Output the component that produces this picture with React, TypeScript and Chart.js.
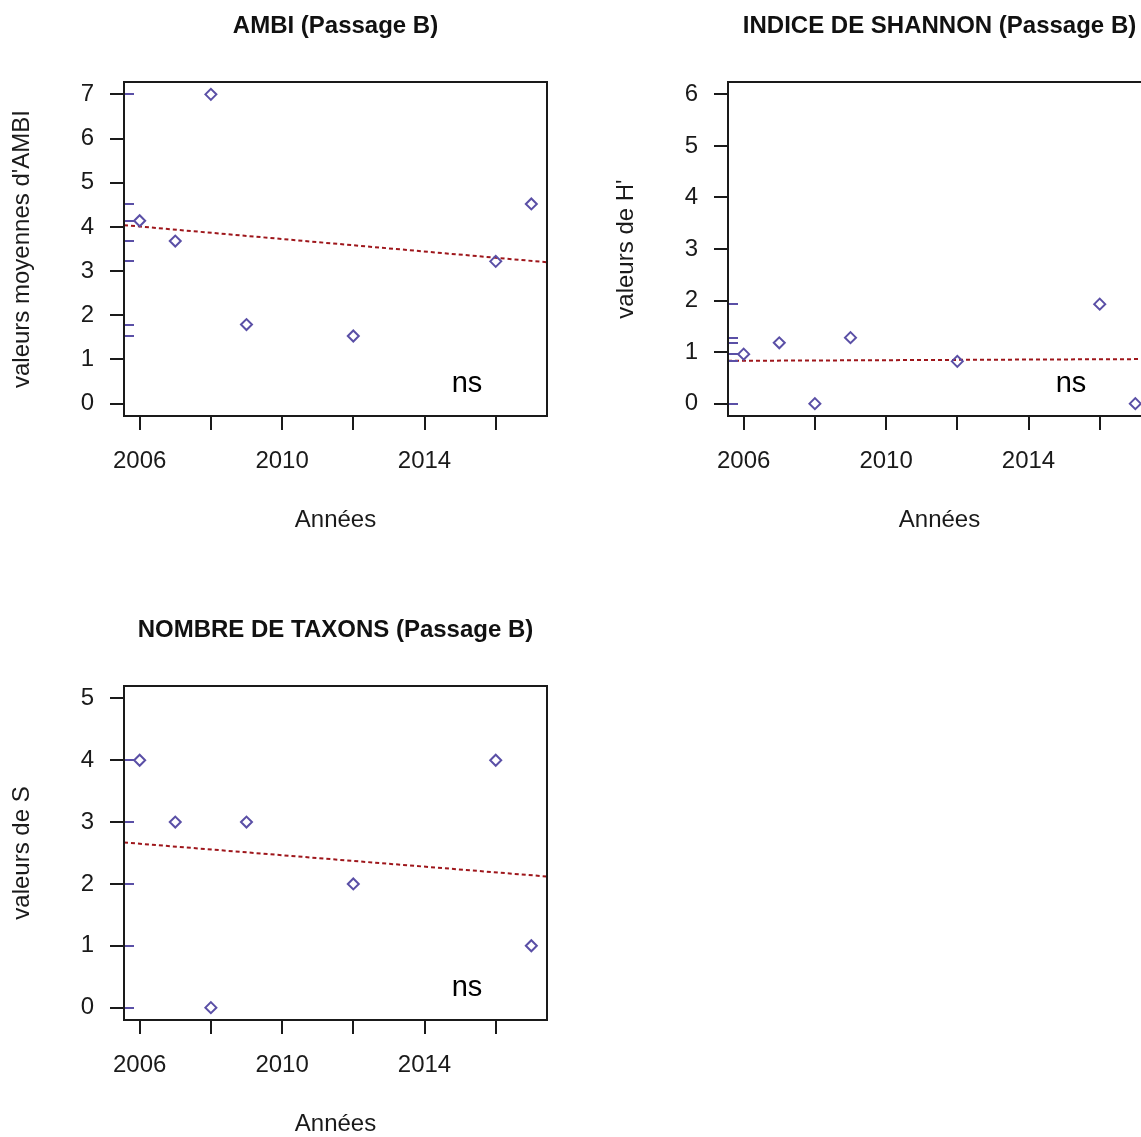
import React, { useEffect, useRef } from "react";
import { Chart, registerables } from "chart.js";

Chart.register(...registerables);

const FONT = "'Liberation Sans', Arial, Helvetica, sans-serif";

// Sampling years (Passage B)
const YEARS = [2006, 2007, 2008, 2009, 2012, 2016, 2017];

// Index values per year
const AMBI = [4.14, 3.68, 7.0, 1.79, 1.53, 3.22, 4.52];
const SHANNON = [0.96, 1.18, 0.0, 1.28, 0.82, 1.93, 0.0];
const TAXA = [4, 3, 0, 3, 2, 4, 1];

// Linear trend: value at the left and right edge of the year axis
const AMBI_TREND = [4.04, 3.2];
const SHANNON_TREND = [0.83, 0.865];
const TAXA_TREND = [2.67, 2.12];

// Year axis
const X_RANGE = [2005.56, 2017.44];
const X_TICKS = [2006, 2008, 2010, 2012, 2014, 2016];
const X_LABELS = ["2006", "", "2010", "", "2014", ""];

// Value axes
const AMBI_Y_TICKS = [0, 1, 2, 3, 4, 5, 6, 7];
const SHANNON_Y_TICKS = [0, 1, 2, 3, 4, 5, 6];
const TAXA_Y_TICKS = [0, 1, 2, 3, 4, 5];
const AMBI_Y_RANGE = [-0.28, 7.28];
const SHANNON_Y_RANGE = [-0.24, 6.24];
const TAXA_Y_RANGE = [-0.2, 5.2];

const SIGNIF = "ns";

const POINT_COLOR = "#5a4fa6";
const TREND_COLOR = "#9e161b";
const INK = "#1a1a1a";

// canvas size and plot box position inside each canvas
const W = 570;
const H = 560;
const PLOT_LEFT = 124;
const PLOT_RIGHT = 547;
const PLOT_BOTTOM = 416;

type PanelProps = {
  x: number;
  y: number;
  title: string;
  yTitle: string;
  values: number[];
  trend: number[];
  yRange: number[];
  yTicks: number[];
};

function Panel({ x, y, title, yTitle, values, trend, yRange, yTicks }: PanelProps) {
  const ref = useRef<HTMLCanvasElement>(null);

  useEffect(() => {
    const frame = {
      id: "frame",
      afterDatasetsDraw(chart: any) {
        const { ctx, chartArea: a, scales } = chart;
        ctx.save();
        // rug of the values along the left axis
        ctx.strokeStyle = POINT_COLOR;
        ctx.lineWidth = 2;
        values.forEach((v) => {
          const py = Math.round(scales.y.getPixelForValue(v));
          ctx.beginPath();
          ctx.moveTo(a.left, py);
          ctx.lineTo(a.left + 10, py);
          ctx.stroke();
        });
        // plot box
        ctx.strokeStyle = INK;
        ctx.lineWidth = 2;
        ctx.strokeRect(a.left, a.top, a.right - a.left, a.bottom - a.top);
        // significance note
        ctx.fillStyle = "#000";
        ctx.font = `29px ${FONT}`;
        ctx.textAlign = "center";
        ctx.textBaseline = "alphabetic";
        ctx.fillText(SIGNIF, a.left + 343, a.bottom - 24);
        ctx.restore();
      },
    };

    const chart = new Chart(ref.current as HTMLCanvasElement, {
      type: "scatter",
      data: {
        datasets: [
          {
            data: YEARS.map((yr, i) => ({ x: yr, y: values[i] })),
            pointStyle: "rectRot",
            pointRadius: 5.5,
            pointBorderWidth: 2,
            borderColor: POINT_COLOR,
            backgroundColor: "rgba(0,0,0,0)",
            showLine: false,
          },
          {
            data: [
              { x: X_RANGE[0], y: trend[0] },
              { x: X_RANGE[1], y: trend[1] },
            ],
            showLine: true,
            pointRadius: 0,
            borderColor: TREND_COLOR,
            borderWidth: 2,
            borderDash: [4, 3],
          },
        ],
      },
      options: {
        animation: false,
        responsive: false,
        devicePixelRatio: 1,
        events: [],
        layout: { padding: { left: 0, top: 0, right: W - PLOT_RIGHT, bottom: 0 } },
        plugins: {
          legend: { display: false },
          tooltip: { enabled: false },
          title: {
            display: true,
            text: title,
            fullSize: false,
            color: "#111",
            font: { family: FONT, size: 24, weight: "bold" },
            padding: { top: 11.6, bottom: 41.6 },
          },
        },
        scales: {
          x: {
            type: "linear",
            min: X_RANGE[0],
            max: X_RANGE[1],
            afterBuildTicks: (s: any) => {
              s.ticks = X_TICKS.map((value) => ({ value }));
            },
            afterFit: (s: any) => {
              s.height = H - PLOT_BOTTOM;
            },
            ticks: {
              color: INK,
              font: { family: FONT, size: 24 },
              padding: 17,
              maxRotation: 0,
              autoSkip: false,
              callback: (_v: any, i: number) => X_LABELS[i],
            },
            grid: { drawOnChartArea: false, drawTicks: true, tickLength: 14, color: INK, lineWidth: 2 },
            border: { display: false },
            title: {
              display: true,
              text: "Années",
              color: INK,
              font: { family: FONT, size: 24 },
              padding: { top: 0, bottom: 25 },
            },
          },
          y: {
            type: "linear",
            min: yRange[0],
            max: yRange[1],
            afterBuildTicks: (s: any) => {
              s.ticks = yTicks.map((value) => ({ value }));
            },
            afterFit: (s: any) => {
              s.width = PLOT_LEFT;
            },
            ticks: {
              color: INK,
              font: { family: FONT, size: 24 },
              padding: 16,
              autoSkip: false,
            },
            grid: { drawOnChartArea: false, drawTicks: true, tickLength: 14, color: INK, lineWidth: 2 },
            border: { display: false },
            title: {
              display: true,
              text: yTitle,
              color: INK,
              font: { family: FONT, size: 24 },
              padding: { top: 7.6, bottom: 0 },
            },
          },
        },
      } as any,
      plugins: [frame],
    });
    return () => chart.destroy();
  }, []);

  return (
    <canvas
      ref={ref}
      width={W}
      height={H}
      style={{ position: "absolute", left: x, top: y, width: W, height: H }}
    />
  );
}

export default function App() {
  useEffect(() => {
    document.body.style.overflow = "hidden";
  }, []);
  return (
    <div
      style={{
        position: "absolute",
        left: 0,
        top: 0,
        width: 1141,
        height: 1137,
        overflow: "hidden",
        background: "#fff",
      }}
    >
      <Panel
        x={0}
        y={0}
        title="AMBI (Passage B)"
        yTitle="valeurs moyennes d'AMBI"
        values={AMBI}
        trend={AMBI_TREND}
        yRange={AMBI_Y_RANGE}
        yTicks={AMBI_Y_TICKS}
      />
      <Panel
        x={604}
        y={0}
        title="INDICE DE SHANNON (Passage B)"
        yTitle="valeurs de H'"
        values={SHANNON}
        trend={SHANNON_TREND}
        yRange={SHANNON_Y_RANGE}
        yTicks={SHANNON_Y_TICKS}
      />
      <Panel
        x={0}
        y={604}
        title="NOMBRE DE TAXONS (Passage B)"
        yTitle="valeurs de S"
        values={TAXA}
        trend={TAXA_TREND}
        yRange={TAXA_Y_RANGE}
        yTicks={TAXA_Y_TICKS}
      />
    </div>
  );
}
